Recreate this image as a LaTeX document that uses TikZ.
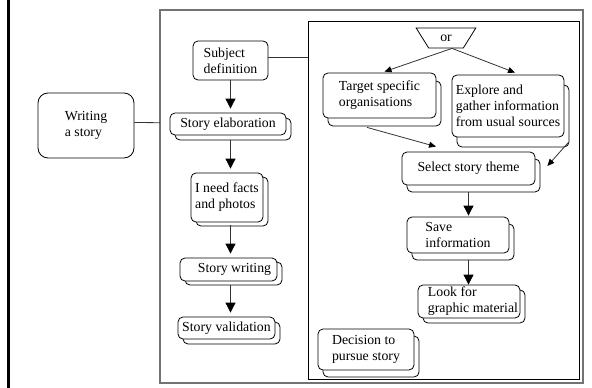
\documentclass[tikz,border=0pt]{standalone}
\usepackage{fontspec}
\setmainfont{Liberation Serif}
\usetikzlibrary{arrows.meta,shapes.geometric,shadows}

\begin{document}
\begin{tikzpicture}[x=1pt,y=-1pt,
  font=\fontsize{13.8}{16}\selectfont,
  box/.style={draw, rounded corners=5pt, fill=white, align=left, inner sep=0pt, line width=0.8pt},
  docbox/.style={box, copy shadow={shadow xshift=5pt, shadow yshift=#1}},
  docbox/.default=-6pt,
  link/.style={draw=black!80, line width=0.8pt},
  flow/.style={link, -{Triangle[length=10pt,width=10pt,black]}, shorten >=4pt},
  pick/.style={link, -{Triangle[length=7pt,width=6pt,black]}}]
  \useasboundingbox (0,0) rectangle (592,388);
  \draw[line width=2.5pt] (8.7,0) -- (8.7,388);
  \draw[black!55, line width=1.2pt] (160,10) rectangle (583,383);
  \draw[line width=0.8pt] (308,21) rectangle (579,379);
  \coordinate (frameL) at (160,122.7);
  \coordinate (innerL) at (308,57);

  \node[box, rounded corners=10pt, minimum width=96pt, minimum height=65pt] (write) at (86,125.5) {Writing\\a story};
  \node[box, minimum width=75pt, minimum height=39pt] (subj) at (230.5,60.5) {Subject\\definition};
  \node[docbox=-5pt, minimum width=116pt, minimum height=22pt] (elab) at (228,124) {Story elaboration};
  \node[docbox=-4pt, minimum width=72pt, minimum height=49pt] (facts) at (227,197.5) {I need facts\\and photos};
  \node[docbox=-4pt, minimum width=97pt, minimum height=23pt] (writ) at (228.5,269.5) {\hspace*{12pt}Story writing};
  \node[docbox=-5pt, minimum width=97pt, minimum height=22pt] (valid) at (226.5,328) {Story validation};

  \node[draw, line width=0.8pt, trapezium, shape border rotate=180, trapezium angle=58, minimum height=20pt, minimum width=49pt, inner sep=0pt] (choice) at (446,38) {or};
  \node[docbox=-8pt, minimum width=113pt, minimum height=45pt] (tgt) at (379.5,95.5) {Target specific\\organisations};
  \node[docbox=-10pt, minimum width=112pt, minimum height=62pt] (expl) at (508,106) {Explore and\\gather information\\from usual sources};
  \node[docbox=-7pt, minimum width=133pt, minimum height=33pt] (sel) at (468.5,168.5) {Select story theme};
  \node[docbox=-7pt, minimum width=102pt, minimum height=36pt] (save) at (458,235) {Save\\information};
  \node[docbox=-5pt, minimum width=102pt, minimum height=33pt] (look) at (469,301.5) {\hspace*{8pt}Look for\\\hspace*{8pt}graphic material};
  \node[docbox=-7pt, minimum width=96pt, minimum height=41pt] (dec) at (366,349.5) {Decision to\\pursue story};

  \draw[link] ([yshift=3pt]write.east) -- (frameL);
  \draw[link] ([yshift=3.5pt]subj.east) -- (innerL);
  \draw[flow] (subj.south) -- (subj.south |- elab.north);
  \draw[flow, shorten <=5pt] (subj.south |- elab.south) -- (subj.south |- facts.north);
  \draw[flow, shorten <=3pt] (subj.south |- facts.south) -- (subj.south |- writ.north);
  \draw[flow, shorten <=4pt] (subj.south |- writ.south) -- (subj.south |- valid.north);

  \draw[pick] ([xshift=6pt]choice.south) -- ([xshift=5pt,yshift=1pt]tgt.north);
  \draw[pick] ([xshift=6pt]choice.south) -- ([xshift=7pt,yshift=2pt]expl.north);
  \draw[pick] ([xshift=-12.5pt,yshift=-9pt]tgt.south) -- ([xshift=-32.5pt,yshift=5pt]sel.north);
  \draw[pick] ([xshift=4pt,yshift=-5pt]expl.south east) -- ([xshift=12pt,yshift=2.5pt]sel.east);
  \draw[flow, shorten <=7pt, shorten >=1pt] (sel.south) -- (sel.south |- save.north);
  \draw[flow, shorten <=7pt, shorten >=0pt] (sel.south |- save.south) -- (sel.south |- look.north);
\end{tikzpicture}
\end{document}
